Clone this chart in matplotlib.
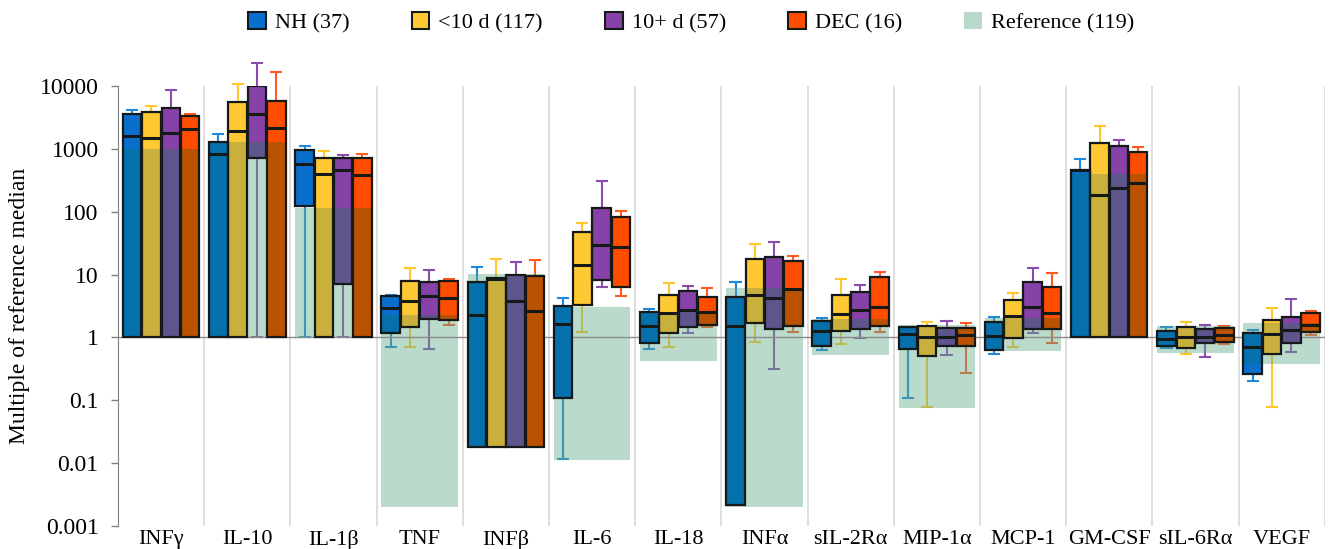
import numpy as np
import matplotlib
matplotlib.use("Agg")
import matplotlib.pyplot as plt
from matplotlib.patches import Patch

plt.rcParams['font.family'] = ['Liberation Serif', 'DejaVu Serif']

cytokines = ["INFγ", "IL-10", "IL-1β", "TNF", "INFβ", "IL-6", "IL-18", "INFα",
             "sIL-2Rα", "MIP-1α", "MCP-1", "GM-CSF", "sIL-6Rα", "VEGF"]
groups = ["NH (37)", "<10 d (117)", "10+ d (57)", "DEC (16)"]
nan = np.nan

# NH
nh_q1 = [1, 1, 123, 1.17, 0.018, 0.108, 0.81, 0.0021, 0.72, 0.65, 0.64, 1, 0.74, 0.264]
nh_med = [1600, 830, 570, 2.95, 2.3, 1.63, 1.53, 1.5, 1.25, 1.14, 1.06, 460, 0.95, 0.70]
nh_q3 = [3550, 1310, 960, 4.6, 7.5, 3.1, 2.5, 4.4, 1.8, 1.44, 1.75, 468, 1.25, 1.19]
nh_wlo = [nan, nan, 1, 0.71, nan, 0.0114, 0.66, nan, 0.64, 0.107, 0.55, nan, 0.67, 0.2]
nh_whi = [4100, 1740, 1130, 4.7, 13, 4.3, 2.8, 7.5, 2.0, 1.48, 2.08, 700, 1.44, 1.31]

# <10 d
lt10_q1 = [1, 1, 1, 1.45, 0.018, 3.3, 1.17, 1.72, 1.25, 0.51, 0.98, 1, 0.67, 0.54]
lt10_med = [1500, 1900, 405, 3.8, 8.6, 14.3, 2.46, 4.8, 2.38, 1.02, 2.21, 187, 1.0, 1.14]
lt10_q3 = [3870, 5500, 725, 7.8, 8.7, 47, 4.8, 18, 4.7, 1.53, 3.98, 1240, 1.48, 1.89]
lt10_wlo = [nan, nan, nan, 0.71, nan, 1.21, 0.70, 0.85, 0.79, 0.079, 0.69, nan, 0.55, 0.077]
lt10_whi = [4900, 11000, 930, 12.5, 18, 67, 7.4, 31, 8.4, 1.75, 5.0, 2350, 1.78, 2.93]

# 10+ d
ge10_q1 = [1, 705, 7, 1.98, 0.018, 8.1, 1.45, 1.38, 1.37, 0.72, 1.37, 1, 0.81, 0.81]
ge10_med = [1770, 3570, 458, 4.5, 3.8, 30, 2.76, 4.3, 2.72, 1.0, 3.08, 240, 1.0, 1.29]
ge10_q3 = [4500, 10000, 725, 7.5, 10, 114, 5.5, 19, 5.2, 1.41, 7.6, 1100, 1.36, 2.13]
ge10_wlo = [nan, 1, 1, 0.65, nan, 6.3, 1.17, 0.31, 0.96, 0.52, 1.17, nan, 0.48, 0.58]
ge10_whi = [8700, 23400, 815, 12, 16, 306, 6.45, 33.5, 6.9, 1.8, 12.7, 1410, 1.57, 4.03]

# DEC
dec_q1 = [1, 1, 1, 1.9, 0.018, 6.4, 1.59, 1.53, 1.5, 0.74, 1.36, 1, 0.85, 1.23]
dec_med = [2100, 2170, 385, 4.2, 2.6, 27.6, 2.5, 5.8, 3.08, 1.09, 2.44, 285, 1.1, 1.57]
dec_q3 = [3300, 5750, 725, 7.9, 9.5, 81, 4.45, 16.7, 9.25, 1.39, 6.4, 890, 1.41, 2.44]
dec_wlo = [nan, nan, nan, 1.57, nan, 4.6, 1.45, 1.21, 1.23, 0.27, 0.81, nan, 0.78, 1.09]
dec_whi = [3600, 16700, 845, 8.5, 17, 103, 6.0, 20, 11.1, 1.67, 10.6, 1060, 1.53, 2.6]

# Reference range
ref_lo = [1, 1, 1, 0.002, 0.018, 0.011, 0.42, 0.002, 0.52, 0.075, 0.61, 1, 0.56, 0.37]
ref_hi = [1000, 1310, 114, 2.3, 10.3, 3.0, 2.55, 6.05, 1.96, 1.55, 2.0, 405, 1.5, 1.69]

q1s = [nh_q1, lt10_q1, ge10_q1, dec_q1]
meds = [nh_med, lt10_med, ge10_med, dec_med]
q3s = [nh_q3, lt10_q3, ge10_q3, dec_q3]
wlos = [nh_wlo, lt10_wlo, ge10_wlo, dec_wlo]
whis = [nh_whi, lt10_whi, ge10_whi, dec_whi]

bright = ["#0A6FCC", "#FFC933", "#8642A6", "#FF4D00"]
dark = ["#0570AC", "#C9B03C", "#5F558D", "#BA5200"]
whisk = ["#1E88DD", "#FFC72C", "#8A4CB0", "#FF5A1F"]
edge = "#151a18"

fig = plt.figure(figsize=(13.29, 5.49), dpi=100)
ax = fig.add_axes([0.0888, 0.0424, 0.908, 0.8007])
ax.set_yscale("log")
ax.set_ylim(0.001, 10000)
ax.set_xlim(-0.5, len(cytokines) - 0.5)

n = len(cytokines)
xs = np.arange(n)
ax.vlines(xs + 0.5, 0.001, 10000, color="#d9d9d9", lw=1.2, zorder=0)

w = 0.215
step = 0.224
for j in range(4):
    for i in range(n):
        x = i + (j - 1.5) * step
        q1, md, q3 = q1s[j][i], meds[j][i], q3s[j][i]
        lo, hi = wlos[j][i], whis[j][i]
        # whiskers
        ax.vlines(x, q3, hi, color=whisk[j], lw=1.5, zorder=1, clip_on=False)
        ax.hlines(hi, x - 0.07, x + 0.07, color=whisk[j], lw=1.5, zorder=1, clip_on=False)
        if not np.isnan(lo):
            ax.vlines(x, lo, q1, color=whisk[j], lw=1.5, zorder=1)
            ax.hlines(lo, x - 0.07, x + 0.07, color=whisk[j], lw=1.5, zorder=1)
        # box fill: darker where the reference band covers it
        rl, rh = ref_lo[i], ref_hi[i]
        olo, ohi = max(q1, rl), min(q3, rh)
        if ohi > olo:
            ax.bar(x, ohi - olo, bottom=olo, width=w, color=dark[j], lw=0, zorder=3)
        if q1 < rl:
            ax.bar(x, min(q3, rl) - q1, bottom=q1, width=w, color=bright[j], lw=0, zorder=3)
        if q3 > rh:
            b = max(q1, rh)
            ax.bar(x, q3 - b, bottom=b, width=w, color=bright[j], lw=0, zorder=3)
        ax.bar(x, q3 - q1, bottom=q1, width=w, fill=False, edgecolor=edge, lw=1.6, zorder=4)
        ax.hlines(md, x - w / 2, x + w / 2, color=edge, lw=2.2, zorder=5)

# reference band
for i in range(n):
    ax.bar(i, ref_hi[i] - ref_lo[i], bottom=ref_lo[i], width=0.89,
           color="#5FAA88", alpha=0.43, lw=0, zorder=2)

ax.axhline(1, color="#8c8c8c", lw=1, zorder=2.5)

for s in ["top", "right", "bottom"]:
    ax.spines[s].set_visible(False)
ax.spines["left"].set_color("#808080")
yt = [0.001, 0.01, 0.1, 1, 10, 100, 1000, 10000]
ax.set_yticks(yt)
ax.set_yticklabels(["0.001", "0.01", "0.1", "1", "10", "100", "1000", "10000"], fontsize=17)
ax.minorticks_off()
ax.tick_params(axis="y", length=5, width=1, color="#808080", pad=9)
ax.set_xticks(xs)
ax.set_xticklabels(cytokines, fontsize=16)
ax.tick_params(axis="x", length=0, pad=3)
ax.set_ylabel("Multiple of reference median", fontsize=17, labelpad=7)

handles = [Patch(facecolor=c, edgecolor=edge, lw=1.5) for c in bright]
handles.append(Patch(facecolor="#B9DACB", edgecolor="none"))
fig.legend(handles, groups + ["Reference (119)"], loc="center", bbox_to_anchor=(0.52, 0.958),
           ncol=5, frameon=False, fontsize=16, handlelength=0.8, handleheight=0.8,
           handletextpad=0.4, columnspacing=2.8)

fig.savefig("out.png", dpi=100)
